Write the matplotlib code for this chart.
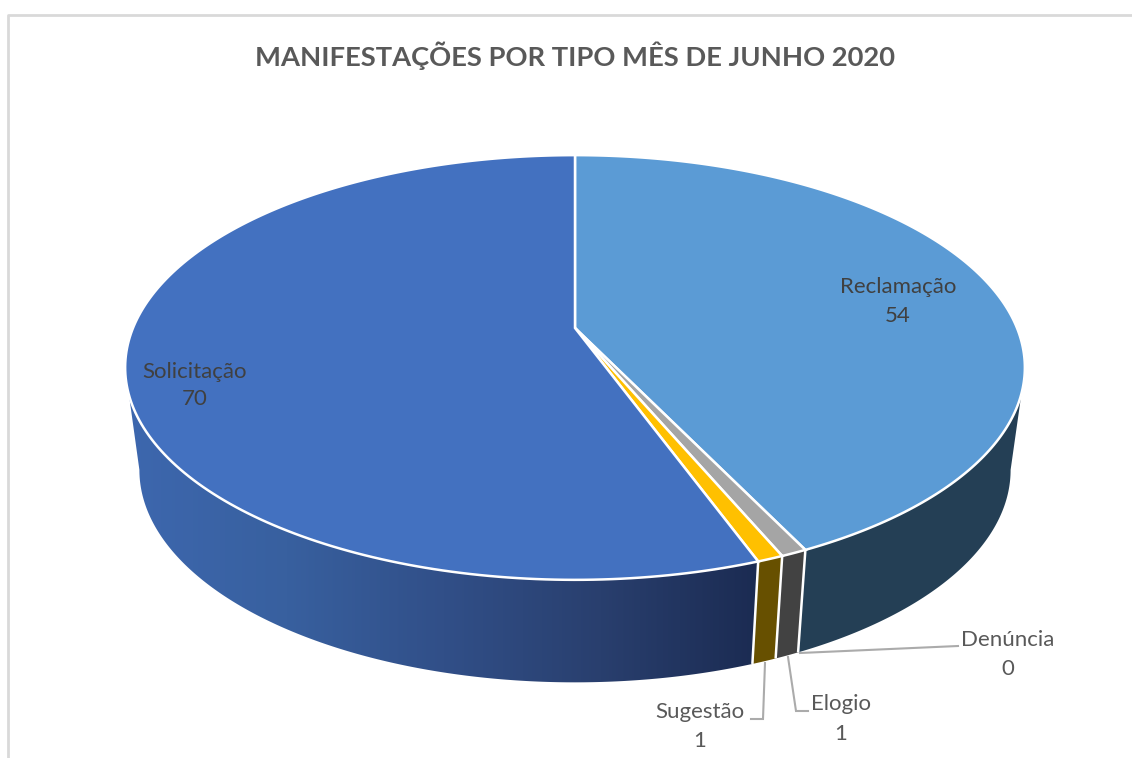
import numpy as np
import matplotlib
matplotlib.use("Agg")
import matplotlib.pyplot as plt
from matplotlib.patches import Polygon
from matplotlib.colors import LinearSegmentedColormap

plt.rcParams['font.family'] = ['Lato', 'DejaVu Sans']

TITLE = "MANIFESTAÇÕES POR TIPO MÊS DE JUNHO 2020"
categories = ["Reclamação", "Denúncia", "Elogio", "Sugestão", "Solicitação"]
values = [54, 0, 1, 1, 70]
top_colors = ["#5B9BD5", "#ED7D31", "#A5A5A5", "#FFC000", "#4371C0"]
side_colors = ["#243F55", "#6E3A18", "#424242", "#675000", None]
gradient = ["#3D67AE", "#38609F", "#314F88", "#293F6E", "#1B2B52"]

# label centres (px): name, value
label_pos = {
    "Reclamação": (898, 287, 316, "#404040"),
    "Solicitação": (195, 372, 399, "#404040"),
    "Denúncia": (1008, 640, 669, "#595959"),
    "Elogio": (841, 704, 734, "#595959"),
    "Sugestão": (700, 712, 741, "#595959"),
}
leaders = [
    ([800, 958], [653, 646]),
    ([788, 796, 808], [657, 711, 711]),
    ([765, 763, 751], [663, 719, 719]),
]

# perspective projection of the pie disc
CX, TOP_Y, BOT_Y = 575.0, 328.0, 430.5
P, B = 0.186, 205.0
A_TOP, A_BOT = 442.0, 428.0


def project(t_deg, a, y0):
    t = np.radians(t_deg)
    u, v = np.sin(t), np.cos(t)
    d = 1 + P * v
    return CX + a * u / d, y0 - B * v / d


def arc(t0, t1, a, y0, n=200):
    x, y = project(np.linspace(t0, t1, n), a, y0)
    return np.column_stack([x, y])


fig = plt.figure(figsize=(11.32, 7.58), dpi=100)
ax = fig.add_axes([0, 0, 1, 1])
ax.set_xlim(0, 1132)
ax.set_ylim(758, 0)
ax.axis("off")

# chart frame
ax.plot([7.5, 7.5, 1132], [758, 14.5, 14.5], color="#D9D9D9", lw=2, zorder=1)

ax.text(575, 56, TITLE, ha="center", va="center", fontsize=19.7,
        fontweight="bold", color="#595959", zorder=10)

edges = np.concatenate([[0], np.cumsum(values)]) / sum(values) * 360.0
T_R_TOP, T_R_BOT = 107.5, 100.7
T_L_TOP, T_L_BOT = 252.0, 259.3

# side walls
for i in range(len(values)):
    t0, t1 = edges[i], edges[i + 1]
    if t1 - t0 < 1e-6:
        continue
    if side_colors[i] is None:
        t_top0, t_bot0 = t0, t0
        t_top1, t_bot1 = T_L_TOP, T_L_BOT
    else:
        t_top0, t_bot0 = max(t0, T_R_TOP), max(t0, T_R_BOT)
        t_top1, t_bot1 = t1, t1
    pts = np.vstack([arc(t_top0, t_top1, A_TOP, TOP_Y),
                     arc(t_bot1, t_bot0, A_BOT, BOT_Y)])
    if side_colors[i] is None:
        cmap = LinearSegmentedColormap.from_list("wall", gradient)
        im = ax.imshow(np.linspace(0, 1, 256)[None, :], cmap=cmap, aspect="auto",
                       extent=(pts[:, 0].min(), pts[:, 0].max(), 758, 0), zorder=2)
        ax.set_xlim(0, 1132)
        ax.set_ylim(758, 0)
        clip = Polygon(pts, closed=True, transform=ax.transData, fc="none", ec="none")
        ax.add_patch(clip)
        im.set_clip_path(clip)
    else:
        ax.add_patch(Polygon(pts, closed=True, fc=side_colors[i], ec="none", zorder=2))

# white separators on the wall
for t in edges[2:5]:
    p0 = project(t, A_TOP, TOP_Y)
    p1 = project(t, A_BOT, BOT_Y)
    ax.plot([p0[0], p1[0]], [p0[1], p1[1]], color="white", lw=1.8, zorder=3,
            solid_capstyle="butt")

# top face
for i in range(len(values)):
    t0, t1 = edges[i], edges[i + 1]
    if t1 - t0 < 1e-6:
        continue
    pts = np.vstack([[CX, TOP_Y], arc(t0, t1, A_TOP, TOP_Y)])
    ax.add_patch(Polygon(pts, closed=True, fc=top_colors[i], ec="white", lw=1.8,
                         joinstyle="miter", zorder=4))

# leader lines
for xs, ys in leaders:
    ax.plot(xs, ys, color="#ABABAB", lw=1.5, zorder=5, solid_joinstyle="miter")

# labels
for name, val in zip(categories, values):
    x, y0, y1, col = label_pos[name]
    ax.text(x, y0, name, ha="center", va="center", fontsize=16, color=col, zorder=6)
    ax.text(x, y1, str(val), ha="center", va="center", fontsize=16, color=col, zorder=6)

fig.savefig("out.png", dpi=100, facecolor="white")
